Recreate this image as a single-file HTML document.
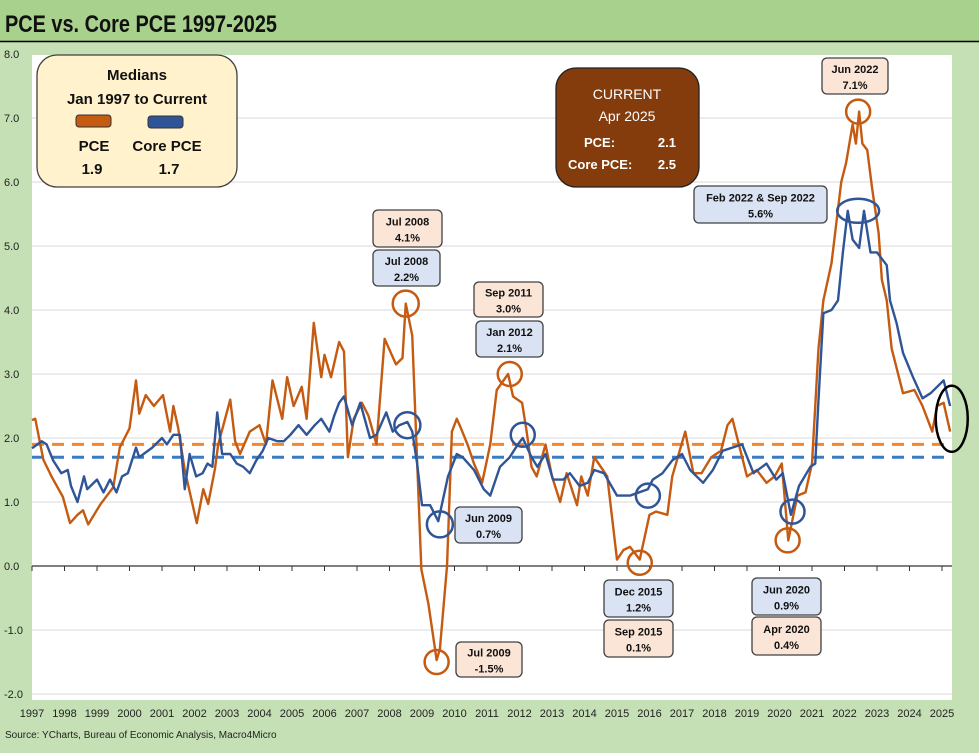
<!DOCTYPE html>
<html><head><meta charset="utf-8"><style>
body{margin:0;width:979px;height:748px;overflow:hidden;background:#c5e0b4;font-family:"Liberation Sans",Arial,sans-serif}
svg text{font-family:"Liberation Sans",Arial,sans-serif}
</style></head><body>
<svg id="c" width="979" height="748" xmlns="http://www.w3.org/2000/svg">
<rect x="0" y="0" width="979" height="41" fill="#a9d18e"/>
<line x1="0" y1="41.5" x2="979" y2="41.5" stroke="#000" stroke-width="1.5"/>
<text x="5" y="32" font-size="24" font-weight="bold" fill="#111" textLength="272" lengthAdjust="spacingAndGlyphs">PCE vs. Core PCE 1997-2025</text>
<rect x="32" y="55" width="920" height="645" fill="#fff"/>
<g id="grid"></g>
<g id="series"></g>
<g id="annot"></g>
<text x="5" y="738" font-size="10" fill="#222">Source: YCharts, Bureau of Economic Analysis, Macro4Micro</text>
</svg>
<script>
const yTicks=[8,7,6,5,4,3,2,1,0,-1,-2];
const years=[1997,1998,1999,2000,2001,2002,2003,2004,2005,2006,2007,2008,2009,2010,2011,2012,2013,2014,2015,2016,2017,2018,2019,2020,2021,2022,2023,2024,2025];
const pceMedian=1.9, coreMedian=1.7;
const pceDates=[1997.0,1997.1,1997.35,1997.6,1997.95,1998.17,1998.4,1998.57,1998.73,1999.1,1999.5,1999.7,2000.0,2000.2,2000.3,2000.5,2000.75,2001.03,2001.25,2001.35,2001.5,2001.7,2002.07,2002.27,2002.42,2002.63,2002.73,2003.1,2003.25,2003.4,2003.7,2004.0,2004.2,2004.4,2004.7,2004.85,2005.05,2005.3,2005.45,2005.67,2005.9,2006.0,2006.2,2006.45,2006.6,2006.72,2006.9,2007.15,2007.35,2007.6,2007.85,2008.2,2008.4,2008.5,2008.7,2008.83,2008.98,2009.2,2009.45,2009.55,2009.77,2009.92,2010.07,2010.2,2010.4,2010.6,2010.85,2011.1,2011.3,2011.65,2011.8,2012.08,2012.22,2012.37,2012.53,2012.8,2013.0,2013.25,2013.45,2013.77,2013.9,2014.1,2014.3,2014.7,2015.0,2015.2,2015.4,2015.7,2016.0,2016.2,2016.55,2016.7,2017.1,2017.35,2017.6,2017.9,2018.2,2018.4,2018.55,2018.75,2019.0,2019.3,2019.6,2019.85,2020.07,2020.27,2020.55,2020.8,2021.0,2021.2,2021.35,2021.6,2021.9,2022.05,2022.25,2022.35,2022.45,2022.55,2022.7,2022.85,2023.05,2023.15,2023.3,2023.45,2023.8,2024.15,2024.4,2024.7,2024.85,2025.05,2025.25];
const pceValues=[2.28,2.3,1.66,1.4,1.08,0.67,0.8,0.87,0.65,0.96,1.23,1.85,2.15,2.9,2.38,2.67,2.5,2.67,2.1,2.5,2.15,1.5,0.67,1.2,0.97,1.52,1.9,2.6,1.95,1.75,2.1,2.2,1.9,2.9,2.3,2.95,2.5,2.8,2.3,3.8,2.95,3.3,2.95,3.5,3.35,1.7,2.3,2.55,2.35,1.9,3.55,3.15,3.25,4.1,3.6,1.9,-0.05,-0.6,-1.47,-1.3,0.0,2.1,2.3,2.15,1.9,1.6,1.3,1.9,2.75,3.0,2.65,2.55,2.1,1.55,1.4,1.9,1.4,1.0,1.45,0.95,1.4,1.1,1.7,1.4,0.1,0.25,0.3,0.1,0.8,0.85,0.8,1.4,2.1,1.45,1.45,1.7,1.8,2.2,2.3,1.9,1.4,1.5,1.3,1.4,1.6,0.4,1.1,1.15,1.6,3.4,4.15,4.73,6.0,6.3,6.9,6.6,7.1,6.6,6.5,5.9,5.2,4.47,4.15,3.4,2.7,2.75,2.5,2.1,2.5,2.55,2.1];
const coreDates=[1997.0,1997.3,1997.45,1997.65,1997.9,1998.1,1998.2,1998.4,1998.6,1998.7,1999.0,1999.2,1999.4,1999.6,1999.77,1999.95,2000.2,2000.3,2000.7,2001.0,2001.15,2001.35,2001.55,2001.7,2001.85,2002.05,2002.25,2002.4,2002.55,2002.7,2002.85,2003.1,2003.3,2003.5,2003.7,2003.9,2004.1,2004.27,2004.55,2004.75,2004.95,2005.2,2005.45,2005.7,2005.9,2006.15,2006.3,2006.45,2006.6,2006.85,2007.1,2007.4,2007.6,2007.9,2008.1,2008.3,2008.55,2008.7,2008.85,2009.0,2009.25,2009.5,2009.8,2010.07,2010.25,2010.6,2010.9,2011.1,2011.4,2011.7,2011.95,2012.1,2012.37,2012.55,2012.8,2013.03,2013.35,2013.55,2013.85,2014.1,2014.3,2014.6,2015.0,2015.4,2015.95,2016.1,2016.4,2016.7,2017.0,2017.25,2017.65,2017.95,2018.25,2018.55,2018.85,2019.2,2019.6,2019.9,2020.1,2020.35,2020.6,2020.95,2021.1,2021.2,2021.35,2021.6,2021.8,2021.95,2022.1,2022.25,2022.45,2022.6,2022.8,2023.0,2023.15,2023.3,2023.4,2023.6,2023.8,2024.1,2024.4,2024.65,2024.85,2025.05,2025.25];
const coreValues=[1.84,1.95,1.9,1.65,1.45,1.5,1.25,1.0,1.4,1.2,1.35,1.15,1.35,1.15,1.4,1.45,1.85,1.7,1.85,2.0,1.9,2.05,2.05,1.2,1.75,1.4,1.45,1.6,1.55,2.4,1.75,1.75,1.6,1.55,1.45,1.65,1.8,2.0,1.95,1.95,2.05,2.2,2.05,2.2,2.3,2.1,2.35,2.55,2.65,2.2,2.55,2.0,2.05,2.4,2.1,2.2,2.25,2.1,1.6,0.95,0.95,0.7,1.4,1.75,1.7,1.5,1.2,1.1,1.55,1.7,1.9,2.0,1.7,1.55,1.75,1.35,1.35,1.45,1.25,1.3,1.5,1.45,1.1,1.1,1.2,1.35,1.45,1.65,1.75,1.5,1.3,1.5,1.8,1.85,1.9,1.45,1.6,1.35,1.45,0.8,1.25,1.55,1.6,2.6,3.95,4.0,4.15,4.9,5.55,5.1,4.97,5.55,4.9,4.9,4.8,4.7,4.15,3.8,3.33,2.96,2.62,2.7,2.8,2.9,2.5];
const X=y=>32+(y-1997)*32.5;
const Y=v=>566-v*64;
const NS='http://www.w3.org/2000/svg';
function mk(parent,tag,attrs){const e=document.createElementNS(NS,tag);for(const k in attrs)e.setAttribute(k,attrs[k]);parent.appendChild(e);return e;}
const grid=document.getElementById('grid'),ser=document.getElementById('series'),ann=document.getElementById('annot');
yTicks.forEach(v=>{
  if(v!==0&&v!==8){const l=mk(grid,'line',{x1:32,x2:952,y1:Y(v),y2:Y(v),stroke:'#d9d9d9','stroke-width':1});
  
  }
  const t=mk(grid,'text',{x:4,y:Y(v)+4,'font-size':11,fill:'#222'});t.textContent=v.toFixed(1);
  
  
});
const ax=mk(grid,'line',{x1:32,x2:952,y1:Y(0),y2:Y(0),stroke:'#333','stroke-width':1.2});


years.forEach(yr=>{
  mk(grid,'line',{x1:X(yr),x2:X(yr),y1:Y(0),y2:Y(0)+5,stroke:'#333'});
  const t=mk(grid,'text',{x:X(yr),y:717,'font-size':11,fill:'#222','text-anchor':'middle'});t.textContent=yr;
  
  
});
const m1=mk(ser,'line',{x1:32,x2:952,y1:Y(pceMedian),y2:Y(pceMedian),stroke:'#f4862e','stroke-width':3,'stroke-dasharray':'12,8'});


const m2=mk(ser,'line',{x1:32,x2:952,y1:Y(coreMedian),y2:Y(coreMedian),stroke:'#3a7cc4','stroke-width':3,'stroke-dasharray':'12,8'});


const pp=mk(ser,'polyline',{points:pceDates.map((d,i)=>X(d)+','+Y(pceValues[i])).join(' '),fill:'none',stroke:'#c55a11','stroke-width':2.4,'stroke-linejoin':'round'});


const cp=mk(ser,'polyline',{points:coreDates.map((d,i)=>X(d)+','+Y(coreValues[i])).join(' '),fill:'none',stroke:'#2f5597','stroke-width':2.4,'stroke-linejoin':'round'});


const circles=[[2008.5,4.1,'#c55a11',13,13],[2008.55,2.2,'#2f5597',13,13],[2009.55,0.65,'#2f5597',13,13],[2009.45,-1.5,'#c55a11',12,12],[2011.7,3.0,'#c55a11',12,12],[2012.1,2.05,'#2f5597',12,12],[2015.95,1.1,'#2f5597',12,12],[2015.7,0.05,'#c55a11',12,12],[2020.4,0.85,'#2f5597',12,12],[2020.25,0.4,'#c55a11',12,12],[2022.42,7.1,'#c55a11',12,12],[2022.42,5.55,'#2f5597',21,12],[2025.3,2.3,'#000',16,33]];
circles.forEach(c=>{const e=mk(ann,'ellipse',{cx:X(c[0]),cy:Y(c[1]),rx:c[3],ry:c[4],fill:'none',stroke:c[2],'stroke-width':2.5});
  
  });
function box(x,y,w,h,fill,l1,l2,name){
  const g=mk(ann,'g',{});
  
  
  mk(g,'rect',{x:x,y:y,width:w,height:h,rx:5,fill:fill,stroke:'#404040','stroke-width':1.3});
  const a=mk(g,'text',{x:x+w/2,y:y+h/2-3,'font-size':11,'font-weight':'bold','text-anchor':'middle',fill:'#111'});a.textContent=l1;
  const b=mk(g,'text',{x:x+w/2,y:y+h/2+13,'font-size':11,'font-weight':'bold','text-anchor':'middle',fill:'#111'});b.textContent=l2;
}
const PK='#fbe5d6',BL='#dae3f3';
box(373,210,69,37,PK,'Jul 2008','4.1%','label-pce-jul-2008');
box(373,250,67,36,BL,'Jul 2008','2.2%','label-core-jul-2008');
box(474,282,69,35,PK,'Sep 2011','3.0%','label-pce-sep-2011');
box(476,321,67,36,BL,'Jan 2012','2.1%','label-core-jan-2012');
box(455,507,67,36,BL,'Jun 2009','0.7%','label-core-jun-2009');
box(456,642,66,35,PK,'Jul 2009','-1.5%','label-pce-jul-2009');
box(604,580,69,37,BL,'Dec 2015','1.2%','label-core-dec-2015');
box(604,620,69,37,PK,'Sep 2015','0.1%','label-pce-sep-2015');
box(752,578,69,37,BL,'Jun 2020','0.9%','label-core-jun-2020');
box(752,617,69,38,PK,'Apr 2020','0.4%','label-pce-apr-2020');
box(694,186,133,37,BL,'Feb 2022 & Sep 2022','5.6%','label-core-2022');
box(822,58,66,36,PK,'Jun 2022','7.1%','label-pce-jun-2022');
</script>
<svg width="979" height="748" style="position:absolute;left:0;top:0" xmlns="http://www.w3.org/2000/svg">
<g>
<rect x="37" y="55" width="200" height="132" rx="20" fill="#fff2cc" stroke="#404040" stroke-width="1.3"/>
<text x="137" y="80" font-size="15" font-weight="bold" text-anchor="middle" fill="#111">Medians</text>
<text x="137" y="104" font-size="15" font-weight="bold" text-anchor="middle" fill="#111">Jan 1997 to Current</text>
<rect x="76" y="115" width="35" height="12" rx="3" fill="#c55a11" stroke="#333"/>
<rect x="148" y="116" width="35" height="12" rx="3" fill="#2f5597" stroke="#333"/>
<text x="94" y="151" font-size="15" font-weight="bold" text-anchor="middle" fill="#111">PCE</text>
<text x="167" y="151" font-size="15" font-weight="bold" text-anchor="middle" fill="#111">Core PCE</text>
<text x="92" y="174" font-size="15" font-weight="bold" text-anchor="middle" fill="#111">1.9</text>
<text x="169" y="174" font-size="15" font-weight="bold" text-anchor="middle" fill="#111">1.7</text>
</g>
<g>
<rect x="556" y="68" width="143" height="119" rx="20" fill="#843c0c" stroke="#222" stroke-width="1.3"/>
<text x="627" y="99" font-size="14" text-anchor="middle" fill="#fff">CURRENT</text>
<text x="627" y="121" font-size="14" text-anchor="middle" fill="#fff">Apr 2025</text>
<text x="584" y="147" font-size="13" font-weight="bold" fill="#fff">PCE:</text>
<text x="676" y="147" font-size="13" font-weight="bold" fill="#fff" text-anchor="end">2.1</text>
<text x="568" y="169" font-size="13" font-weight="bold" fill="#fff">Core PCE:</text>
<text x="676" y="169" font-size="13" font-weight="bold" fill="#fff" text-anchor="end">2.5</text>
</g>
</svg>
</body></html>
